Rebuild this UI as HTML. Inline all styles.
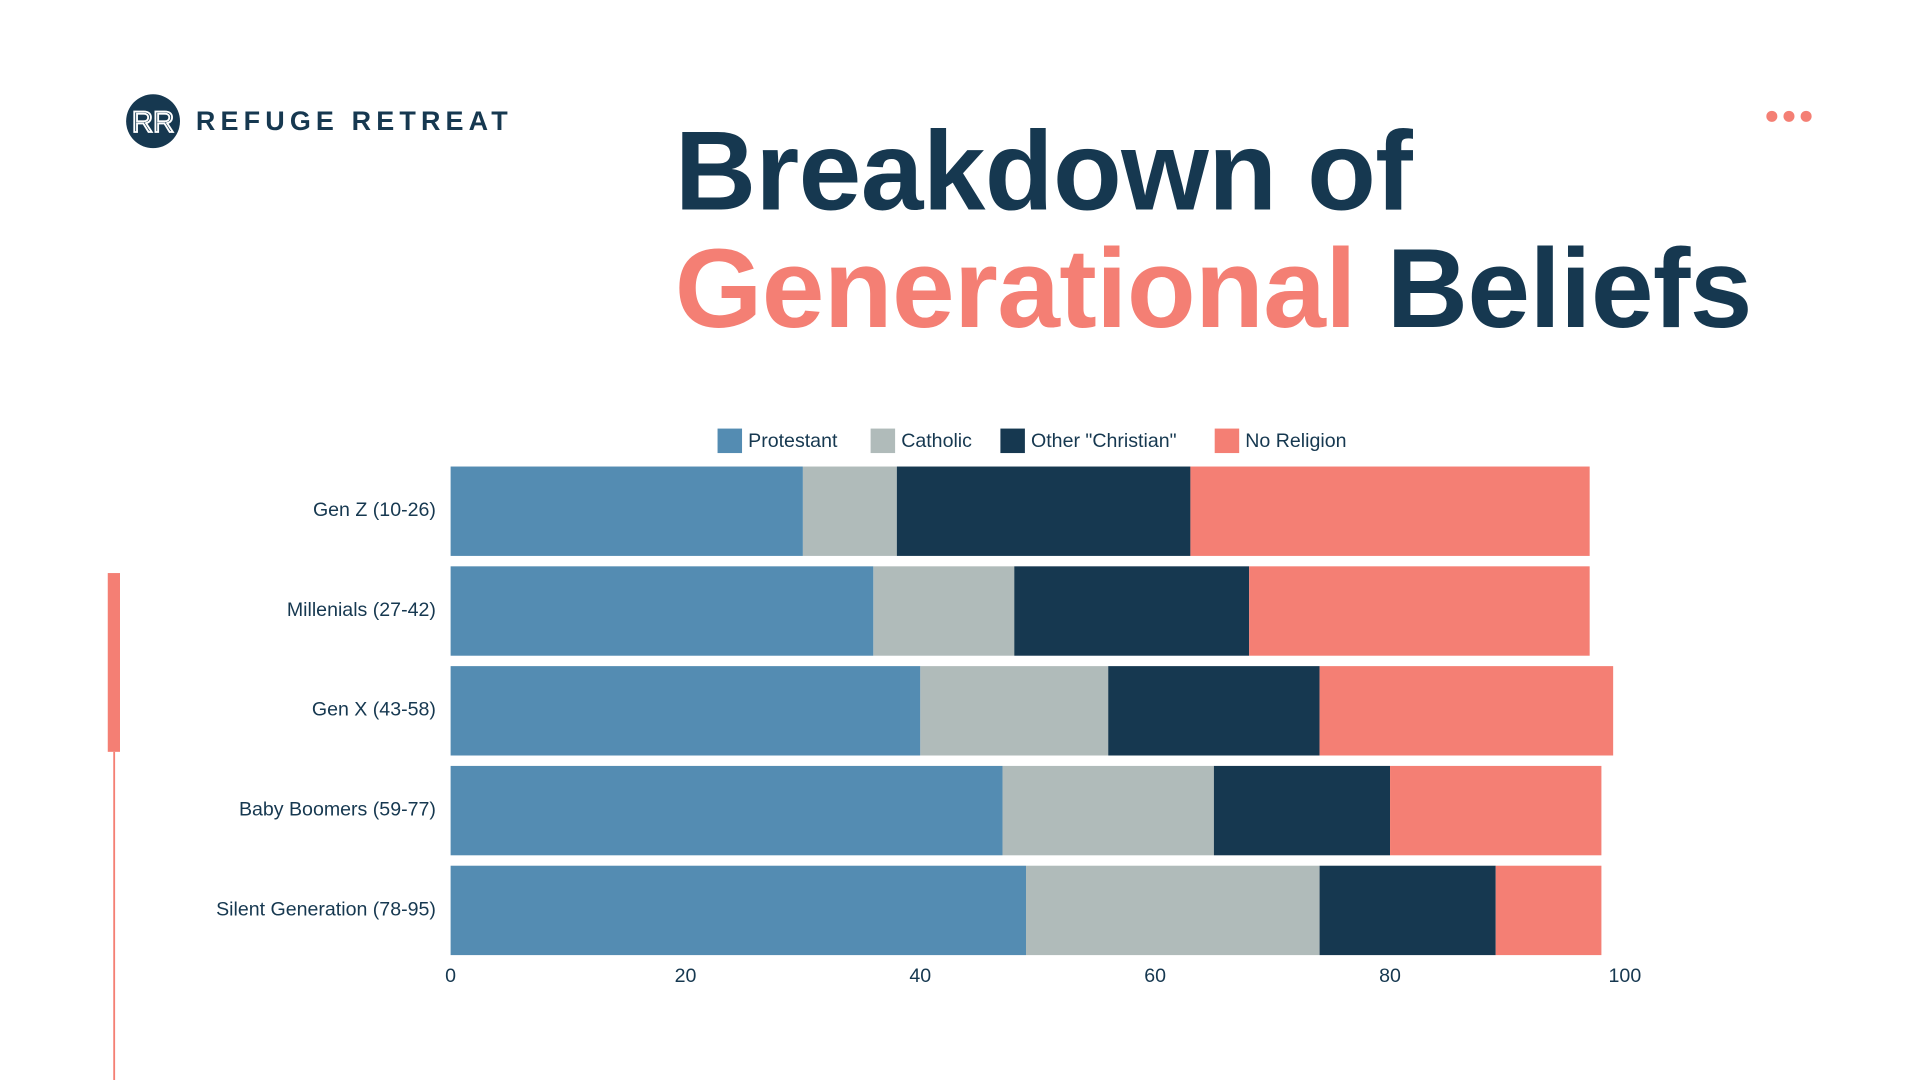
<!DOCTYPE html>
<html><head><meta charset="utf-8"><style>
html,body{margin:0;padding:0;background:#fff;overflow:hidden;width:1920px;height:1080px}
#wrap{position:absolute;left:0;top:0;width:1568px;height:882px;transform:scale(1.22449);transform-origin:0 0;font-family:"Liberation Sans",sans-serif;color:#163850}
.t{position:absolute;white-space:nowrap}
</style></head><body>
<div id="wrap">
<svg width="1568" height="882" style="position:absolute;left:0;top:0">
<circle cx="125" cy="99" r="22" fill="#163850"/>
<text x="125" y="108" text-anchor="middle" font-family="Liberation Sans" font-size="24" fill="none" stroke="#fff" stroke-width="1.5">RR</text>
<circle cx="1447" cy="95" r="4.5" fill="#f47f74"/>
<circle cx="1461" cy="95" r="4.5" fill="#f47f74"/>
<circle cx="1475" cy="95" r="4.5" fill="#f47f74"/>
<rect x="88" y="468" width="10" height="146" fill="#f47f74"/>
<rect x="92.5" y="614" width="1.5" height="268" fill="#f47f74"/>
</svg>
<div class="t" style="left:160px;top:86px;font-size:22px;font-weight:bold;letter-spacing:4.2px">REFUGE RETREAT</div>
<div class="t" style="left:551px;top:92px;font-size:92px;font-weight:bold;letter-spacing:-0.5px;line-height:96px">Breakdown of<br><span style="color:#f47f74">Generational</span> Beliefs</div>
<svg id="chart" width="1568" height="882" style="position:absolute;left:0;top:0"></svg>
</div>
<script>
const categories=["Gen Z (10-26)","Millenials (27-42)","Gen X (43-58)","Baby Boomers (59-77)","Silent Generation (78-95)"];
const seriesNames=["Protestant","Catholic","Other \"Christian\"","No Religion"];
const protestant=[30,36,40,47,49];
const catholic=[8,12,16,18,25];
const otherChristian=[25,20,18,15,15];
const noReligion=[34,29,25,18,9];
const ticks=[0,20,40,60,80,100];
const colors=["#548cb2","#b0bbba","#163850","#f47f74"];
const svg=document.getElementById('chart');const NS="http://www.w3.org/2000/svg";
const x=v=>368+v*9.59;const y=i=>381+i*81.5;const bh=73;
function mk(t,a){const e=document.createElementNS(NS,t);for(const k in a)e.setAttribute(k,a[k]);svg.appendChild(e);return e;}
const series=[protestant,catholic,otherChristian,noReligion];
categories.forEach((c,i)=>{
 let acc=0;
 series.forEach((s,j)=>{
  const r=mk('rect',{x:x(acc),y:y(i),width:x(acc+s[i])-x(acc),height:bh,fill:colors[j]});
  
  
  acc+=s[i];
 });
 const l=mk('text',{x:356,y:y(i)+bh/2+4,'text-anchor':'end','font-size':16,fill:'#163850','font-family':'Liberation Sans'});
 l.textContent=c;
 
 
});
ticks.forEach(t=>{
 const e=mk('text',{x:x(t),y:802,'text-anchor':'middle','font-size':16,fill:'#163850','font-family':'Liberation Sans'});
 e.textContent=t;
 
 
});
const lx=[586,711,817,992];
seriesNames.forEach((n,j)=>{
 const r=mk('rect',{x:lx[j],y:350,width:20,height:20,fill:colors[j]});
 
 
 const t=mk('text',{x:lx[j]+25,y:365,'font-size':16,fill:'#163850','font-family':'Liberation Sans'});
 t.textContent=n;
 
 
});
</script>
</body></html>
